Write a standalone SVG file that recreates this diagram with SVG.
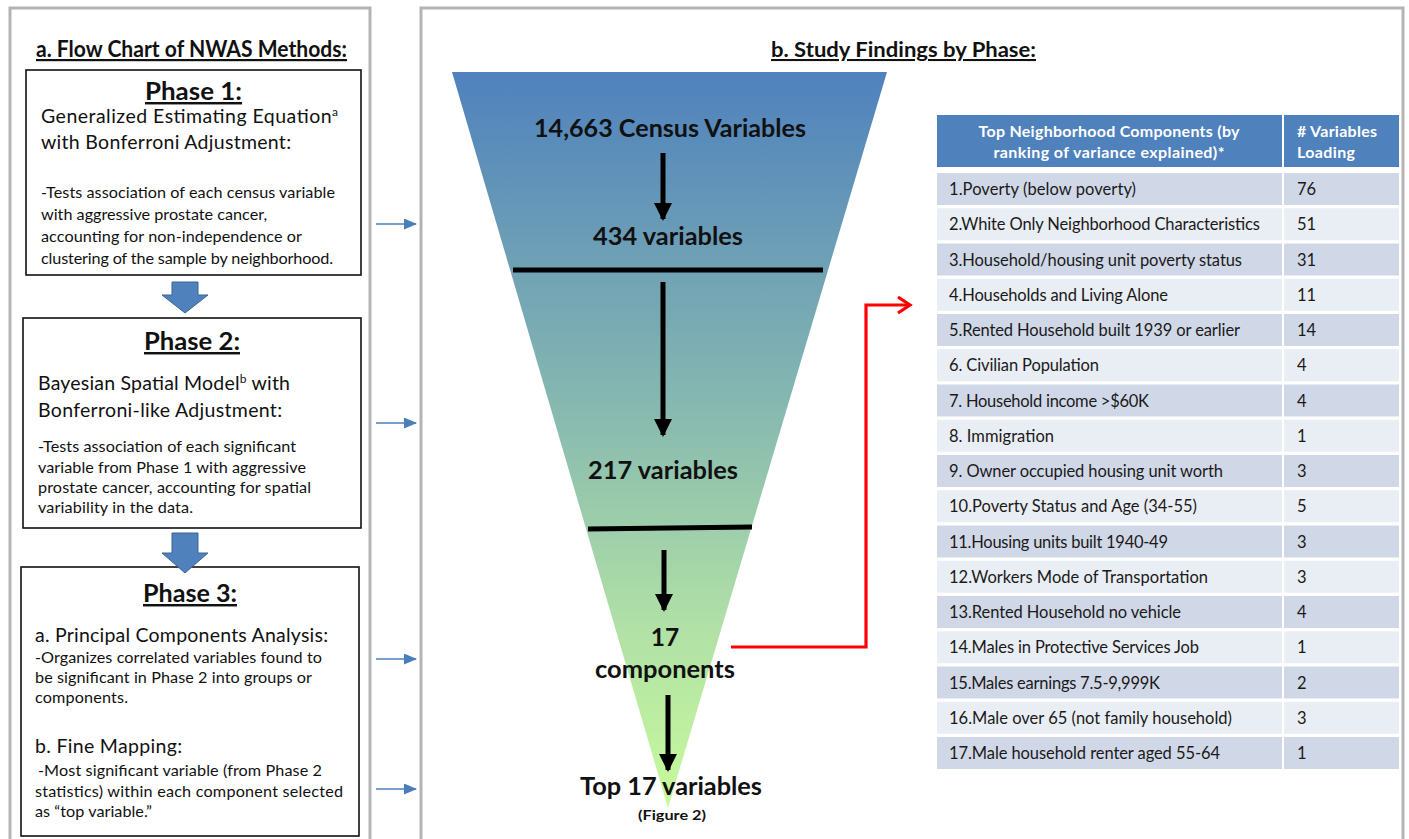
<svg xmlns="http://www.w3.org/2000/svg" width="1409" height="839" viewBox="0 0 1409 839">
<defs>
<style>
text{font-family:Lato,"Open Sans","Liberation Sans",sans-serif;fill:#111}
.b{font-weight:bold}
.u{text-decoration:underline}
.h{font-size:24.5px;font-weight:bold;text-decoration:underline}
.m{font-size:19.5px}
.s{font-size:16.2px}
.f{font-size:24.5px;font-weight:bold}
.t{font-size:16.5px;fill:#1a1a1a}
.th{font-size:16px;font-weight:bold;fill:#fff}
.panel{fill:#fff;stroke:#b3b3b3;stroke-width:3}
.box{fill:#fff;stroke:#111;stroke-width:1.6}
.barrow{fill:#4f81bd;stroke:#3b6595;stroke-width:1}
.thin{stroke:#4a7ebb;stroke-width:1.6;fill:none}
.blk{stroke:#000;stroke-width:5;fill:none}
.ro{fill:#d0d8e8}
.re{fill:#e9edf4}
</style>
<linearGradient id="fun" x1="0" y1="72" x2="0" y2="808" gradientUnits="userSpaceOnUse">
<stop offset="0" stop-color="#4f81bd"/>
<stop offset="0.45" stop-color="#86b8b0"/>
<stop offset="0.75" stop-color="#b0e0a6"/>
<stop offset="1" stop-color="#c8fa9c"/>
</linearGradient>
<marker id="ba" markerWidth="13" markerHeight="11" refX="12" refY="5.5" orient="auto" markerUnits="userSpaceOnUse">
<path d="M0,0 L13,5.5 L0,11 Z" fill="#4a7ebb"/>
</marker>
<marker id="ka" markerWidth="18" markerHeight="18" refX="16" refY="9" orient="auto" markerUnits="userSpaceOnUse">
<path d="M0,0 L18,9 L0,18 Z" fill="#000"/>
</marker>
</defs>
<rect width="1409" height="839" fill="#fff"/>

<g id="panel-a">
<rect class="panel" x="10" y="8" width="360" height="845"/>
<text class="b u" x="36" y="57" font-size="22" textLength="311" lengthAdjust="spacingAndGlyphs">a. Flow Chart of NWAS Methods:</text>
</g>

<g id="phase1">
<rect class="box" x="26" y="70" width="335" height="205"/>
<text class="h" x="145" y="100" textLength="97" lengthAdjust="spacingAndGlyphs">Phase 1:</text>
<text class="m" x="41" y="123" textLength="297" lengthAdjust="spacing">Generalized Estimating  Equation<tspan font-size="12" dy="-7">a</tspan></text>
<text class="m" x="41" y="149" textLength="250" lengthAdjust="spacing">with Bonferroni Adjustment:</text>
<text class="s" x="41" y="198" textLength="294" lengthAdjust="spacing">-Tests association of each census variable</text>
<text class="s" x="41" y="220">with aggressive prostate cancer,</text>
<text class="s" x="41" y="242" textLength="261" lengthAdjust="spacing">accounting for non-independence or</text>
<text class="s" x="41" y="264" textLength="292" lengthAdjust="spacing">clustering of the sample by neighborhood.</text>
</g>

<g id="phase2">
<rect class="box" x="23" y="318" width="338" height="210"/>
<text class="h" x="144" y="350" textLength="96" lengthAdjust="spacingAndGlyphs">Phase 2:</text>
<text class="m" x="38" y="390" textLength="252" lengthAdjust="spacing">Bayesian Spatial Model<tspan font-size="12" dy="-7">b</tspan><tspan dy="7"> with</tspan></text>
<text class="m" x="38" y="417" textLength="244" lengthAdjust="spacing">Bonferroni-like Adjustment:</text>
<text class="s" x="38" y="452" textLength="258" lengthAdjust="spacing">-Tests association of each significant</text>
<text class="s" x="38" y="473" textLength="268" lengthAdjust="spacing">variable from Phase 1 with aggressive</text>
<text class="s" x="38" y="493" textLength="273" lengthAdjust="spacing">prostate cancer, accounting for spatial</text>
<text class="s" x="38" y="513" textLength="155" lengthAdjust="spacing">variability in the data.</text>
</g>

<g id="phase3">
<rect class="box" x="21" y="567" width="338" height="269"/>
<text class="h" x="143" y="602" textLength="94" lengthAdjust="spacingAndGlyphs">Phase 3:</text>
<text class="m" x="35" y="642" textLength="293" lengthAdjust="spacing">a. Principal Components Analysis:</text>
<text class="s" x="35" y="663" textLength="287" lengthAdjust="spacing">-Organizes correlated variables found to</text>
<text class="s" x="35" y="683" textLength="277" lengthAdjust="spacing">be significant in Phase 2 into groups or</text>
<text class="s" x="35" y="703" textLength="93" lengthAdjust="spacing">components.</text>
<text class="m" x="35" y="753" textLength="147" lengthAdjust="spacing">b. Fine Mapping:</text>
<text class="s" x="38" y="776" textLength="284" lengthAdjust="spacing">-Most significant variable (from Phase 2</text>
<text class="s" x="35" y="797" textLength="308" lengthAdjust="spacing">statistics)  within each component selected</text>
<text class="s" x="35" y="817" textLength="117" lengthAdjust="spacing">as “top variable.”</text>
</g>

<g id="panel-b">
<rect class="panel" x="421" y="8" width="982" height="845"/>
<text class="b u" x="771" y="57" font-size="20.5" textLength="265" lengthAdjust="spacingAndGlyphs">b. Study Findings by Phase:</text>
</g>

<g id="funnel">
<polygon points="452,72 887,72 668,808" fill="url(#fun)"/>
<text class="f" x="534" y="137" textLength="272" lengthAdjust="spacingAndGlyphs">14,663 Census Variables</text>
<text class="f" x="593" y="245" textLength="150" lengthAdjust="spacingAndGlyphs">434 variables</text>
<line class="blk" x1="513" y1="270" x2="823" y2="270"/>
<text class="f" x="588" y="479" textLength="150" lengthAdjust="spacingAndGlyphs">217 variables</text>
<line class="blk" x1="588" y1="529" x2="752" y2="527"/>
<text class="f" x="665" y="646" text-anchor="middle">17</text>
<text class="f" x="595" y="678" textLength="140" lengthAdjust="spacingAndGlyphs">components</text>
<text class="f" x="580" y="795" textLength="182" lengthAdjust="spacingAndGlyphs">Top 17 variables</text>
<text class="b" x="638" y="820" font-size="12.5" textLength="68" lengthAdjust="spacingAndGlyphs">(Figure 2)</text>
</g>

<g id="connectors">
<path class="barrow" d="M172,282 H198 V295 H208 L185,313 L162,295 H172 Z"/>
<path class="barrow" d="M172,533 H198 V553 H208 L185,573 L162,553 H172 Z"/>
<line class="thin" x1="376" y1="224" x2="416" y2="224" marker-end="url(#ba)"/>
<line class="thin" x1="376" y1="423" x2="416" y2="423" marker-end="url(#ba)"/>
<line class="thin" x1="376" y1="659" x2="416" y2="659" marker-end="url(#ba)"/>
<line class="thin" x1="376" y1="789" x2="416" y2="789" marker-end="url(#ba)"/>
<line class="blk" x1="663" y1="153" x2="663" y2="219" marker-end="url(#ka)"/>
<line class="blk" x1="663" y1="282" x2="663" y2="435" marker-end="url(#ka)"/>
<line class="blk" x1="664" y1="550" x2="664" y2="610" marker-end="url(#ka)"/>
<line class="blk" x1="668" y1="695" x2="668" y2="770" marker-end="url(#ka)"/>
<polyline points="731,647 866,647 866,305 909,305" fill="none" stroke="#f00" stroke-width="3.2"/>
<polyline points="898,297 910,305 898,313" fill="none" stroke="#f00" stroke-width="3.2"/>
</g>

<g id="table">
<rect x="937" y="115" width="345" height="52" fill="#4f81bd"/>
<rect x="1284" y="115" width="115" height="52" fill="#4f81bd"/>
<text class="th" x="1109" y="137" text-anchor="middle" textLength="261" lengthAdjust="spacing">Top Neighborhood Components (by</text>
<text class="th" x="1109" y="158" text-anchor="middle" textLength="231" lengthAdjust="spacing">ranking of variance explained)*</text>
<text class="th" x="1297" y="137" textLength="80" lengthAdjust="spacing"># Variables</text>
<text class="th" x="1297" y="158" textLength="58" lengthAdjust="spacing">Loading</text>

<rect class="ro" x="937" y="173" width="345" height="32"/><rect class="ro" x="1284" y="173" width="115" height="32"/>
<text class="t" x="949" y="195" textLength="187" lengthAdjust="spacing">1.Poverty (below poverty)</text><text class="t" x="1297" y="195">76</text>

<rect class="re" x="937" y="208.25" width="345" height="32"/><rect class="re" x="1284" y="208.25" width="115" height="32"/>
<text class="t" x="949" y="230.25" textLength="311" lengthAdjust="spacing">2.White Only Neighborhood Characteristics</text><text class="t" x="1297" y="230.25">51</text>

<rect class="ro" x="937" y="243.5" width="345" height="32"/><rect class="ro" x="1284" y="243.5" width="115" height="32"/>
<text class="t" x="949" y="265.5" textLength="293" lengthAdjust="spacing">3.Household/housing unit poverty status</text><text class="t" x="1297" y="265.5">31</text>

<rect class="re" x="937" y="278.75" width="345" height="32"/><rect class="re" x="1284" y="278.75" width="115" height="32"/>
<text class="t" x="949" y="300.75" textLength="219" lengthAdjust="spacing">4.Households and Living Alone</text><text class="t" x="1297" y="300.75">11</text>

<rect class="ro" x="937" y="314" width="345" height="32"/><rect class="ro" x="1284" y="314" width="115" height="32"/>
<text class="t" x="949" y="336" textLength="291" lengthAdjust="spacing">5.Rented Household built 1939 or earlier</text><text class="t" x="1297" y="336">14</text>

<rect class="re" x="937" y="349.25" width="345" height="32"/><rect class="re" x="1284" y="349.25" width="115" height="32"/>
<text class="t" x="949" y="371.25" textLength="150" lengthAdjust="spacing">6. Civilian Population</text><text class="t" x="1297" y="371.25">4</text>

<rect class="ro" x="937" y="384.5" width="345" height="32"/><rect class="ro" x="1284" y="384.5" width="115" height="32"/>
<text class="t" x="949" y="406.5" textLength="200" lengthAdjust="spacing">7. Household income &gt;$60K</text><text class="t" x="1297" y="406.5">4</text>

<rect class="re" x="937" y="419.75" width="345" height="32"/><rect class="re" x="1284" y="419.75" width="115" height="32"/>
<text class="t" x="949" y="441.75" textLength="105" lengthAdjust="spacing">8. Immigration</text><text class="t" x="1297" y="441.75">1</text>

<rect class="ro" x="937" y="455" width="345" height="32"/><rect class="ro" x="1284" y="455" width="115" height="32"/>
<text class="t" x="949" y="477" textLength="274" lengthAdjust="spacing">9. Owner occupied housing unit worth</text><text class="t" x="1297" y="477">3</text>

<rect class="re" x="937" y="490.25" width="345" height="32"/><rect class="re" x="1284" y="490.25" width="115" height="32"/>
<text class="t" x="949" y="512.25" textLength="248" lengthAdjust="spacing">10.Poverty  Status and Age (34-55)</text><text class="t" x="1297" y="512.25">5</text>

<rect class="ro" x="937" y="525.5" width="345" height="32"/><rect class="ro" x="1284" y="525.5" width="115" height="32"/>
<text class="t" x="949" y="547.5" textLength="219" lengthAdjust="spacing">11.Housing units built 1940-49</text><text class="t" x="1297" y="547.5">3</text>

<rect class="re" x="937" y="560.75" width="345" height="32"/><rect class="re" x="1284" y="560.75" width="115" height="32"/>
<text class="t" x="949" y="582.75" textLength="259" lengthAdjust="spacing">12.Workers Mode of Transportation</text><text class="t" x="1297" y="582.75">3</text>

<rect class="ro" x="937" y="596" width="345" height="32"/><rect class="ro" x="1284" y="596" width="115" height="32"/>
<text class="t" x="949" y="618" textLength="232" lengthAdjust="spacing">13.Rented Household no vehicle</text><text class="t" x="1297" y="618">4</text>

<rect class="re" x="937" y="631.25" width="345" height="32"/><rect class="re" x="1284" y="631.25" width="115" height="32"/>
<text class="t" x="949" y="653.25" textLength="250" lengthAdjust="spacing">14.Males in Protective Services Job</text><text class="t" x="1297" y="653.25">1</text>

<rect class="ro" x="937" y="666.5" width="345" height="32"/><rect class="ro" x="1284" y="666.5" width="115" height="32"/>
<text class="t" x="949" y="688.5" textLength="211" lengthAdjust="spacing">15.Males earnings 7.5-9,999K</text><text class="t" x="1297" y="688.5">2</text>

<rect class="re" x="937" y="701.75" width="345" height="32"/><rect class="re" x="1284" y="701.75" width="115" height="32"/>
<text class="t" x="949" y="723.75" textLength="283" lengthAdjust="spacing">16.Male over 65 (not family household)</text><text class="t" x="1297" y="723.75">3</text>

<rect class="ro" x="937" y="737" width="345" height="32"/><rect class="ro" x="1284" y="737" width="115" height="32"/>
<text class="t" x="949" y="759" textLength="271" lengthAdjust="spacing">17.Male household renter aged 55-64</text><text class="t" x="1297" y="759">1</text>
</g>
</svg>
